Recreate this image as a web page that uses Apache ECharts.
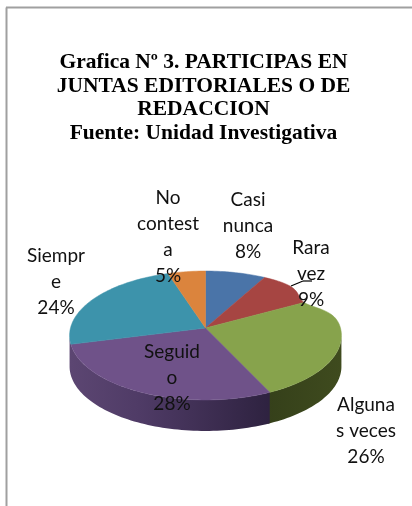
<!DOCTYPE html>
<html><head><meta charset="utf-8">
<style>html,body{margin:0;padding:0;background:#fff}#c{width:412px;height:506px}</style>
<script src="https://cdn.jsdelivr.net/npm/echarts@6/dist/echarts.min.js"></script>
</head><body><div id="c"></div>
<script>
const titleLines = ['Grafica Nº 3. PARTICIPAS EN','JUNTAS EDITORIALES O DE','REDACCION','Fuente: Unidad Investigativa'];
const categories = ['Casi nunca','Rara vez','Algunas veces','Seguido','Siempre','No contesta'];
const values = [8,9,26,28,24,5];
const labelTexts = ['Casi\nnunca\n8%','Rara\nvez\n9%','Alguna\ns veces\n26%','Seguid\no\n28%','Siempr\ne\n24%','No\ncontest\na\n5%'];
const topColors = ['#4a74a8','#a64542','#87a34c','#6f5289','#3d93ab','#db843d'];
const sideColors = ['#2c4565','#642927','#3a4519','#4a3760','#255866','#83501f'];
const labelAnchors = [[248,226],[311,274],[366,431],[172,378],[56,282],[168,237]];

const cx=205.5, cy=328, R=135, B=63.6, K=0.1163, depth=31;
const D2R=Math.PI/180;
function rim(deg,dy){
  const t=deg*D2R, w=1+K*Math.cos(t);
  const dent=dy?1:1-0.12*Math.exp(-Math.pow((deg-61)/12,2));
  return [cx+dent*R*Math.sin(t)/w, cy-dent*B*Math.cos(t)/w+(dy||0)];
}
function arc(a,b,dy){
  const pts=[], n=Math.max(2,Math.ceil((b-a)/1.5));
  for(let i=0;i<=n;i++) pts.push(rim(a+(b-a)*i/n,dy));
  return pts;
}
const total=values.reduce((s,v)=>s+v,0);
const VIS_A=96.7, VIS_B=263.3;

const chart=echarts.init(document.getElementById('c'),null,{renderer:'canvas'});
chart.setOption({
  animation:false,
  backgroundColor:'#fff',
  title:{
    text:titleLines.join('\n'),
    left:198.5,top:46,textAlign:'center',
    textStyle:{fontFamily:'"Liberation Serif"',fontWeight:'bold',fontSize:21.5,lineHeight:23.5,color:'#000'}
  },
  graphic:[
    {type:'line',shape:{x1:6.5,y1:7.5,x2:6.5,y2:506},style:{stroke:'#a0a0a0',lineWidth:2}},
    {type:'line',shape:{x1:6,y1:7.5,x2:412,y2:7.5},style:{stroke:'#a0a0a0',lineWidth:2}},
    {type:'line',z:100,shape:{x1:291,y1:286,x2:303,y2:281},style:{stroke:'#000',lineWidth:1.2}},
    {type:'line',z:100,shape:{x1:303,y1:281,x2:312,y2:281},style:{stroke:'#000',lineWidth:1.2}}
  ],
  series:[{
    type:'custom',
    coordinateSystem:'none',
    data:categories.map((c,i)=>({name:c,value:[values[i],i]})),
    renderItem(params,api){
      const i=api.value(1);
      let before=0;
      for(let k=0;k<i;k++) before+=values[k];
      const a=before/total*360, b=(before+api.value(0))/total*360;
      const children=[];
      const sa=Math.max(a,VIS_A), sb=i===3?VIS_B:(i===2?b+1:Math.min(b,VIS_B));
      if(sb>sa && i!==4){
        const top=arc(sa,sb,0), bot=arc(sa,sb,depth).reverse();
        let fill=sideColors[i];
        if(i===3){
          fill=new echarts.graphic.LinearGradient(0,0,1,0,[
            {offset:0,color:'#5c4672'},{offset:0.35,color:'#4f3b66'},{offset:1,color:'#2e2240'}]);
        } else if(i===2){
          fill=new echarts.graphic.LinearGradient(0,0,1,0,[
            {offset:0,color:'#35401a'},{offset:1,color:'#3f4b1e'}]);
        }
        children.push({type:'polygon',z2:i===3?2:1,shape:{points:top.concat(bot)},style:{fill}});
      }
      children.push({type:'polygon',z2:5,shape:{points:[[cx,cy]].concat(arc(a,b,0))},
        style:{fill:topColors[i],stroke:topColors[i],lineWidth:0.5}});
      children.push({type:'text',z2:20,x:labelAnchors[i][0],y:labelAnchors[i][1],
        style:{text:labelTexts[i],fontFamily:'Lato',fontSize:19,lineHeight:26,fill:'#111',align:'center',verticalAlign:'middle'}});
      return {type:'group',children};
    }
  }]
});
</script></body></html>
